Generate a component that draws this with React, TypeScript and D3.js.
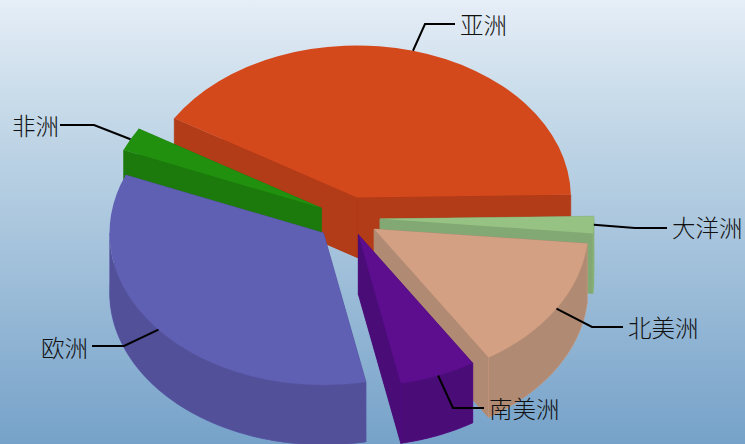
// App.tsx
import { useEffect, useRef } from 'react'
import * as d3 from 'd3'

const WIDTH = 745
const HEIGHT = 444

// values in drawing order round the pie, counter-clockwise from 3 o'clock
const categories = ['亚洲', '非洲', '欧洲', '南美洲', '北美洲', '大洋洲']
const shares = [41.0, 2.5, 34.4, 5.8, 14.5, 1.8]
const explosions = [30, 31, 33, 25, 29.5, 31]

const topColors = ['#d4491c', '#21900f', '#5f5fb3', '#5c0e8e', '#d3a084', '#96c283']
const wallColors = ['#b23b18', '#1c7a0d', '#525098', '#4a0d78', '#b08a72', '#82a874']

// painter's order, back to front
const PAINT_ORDER = [0, 5, 1, 4, 3, 2]

// label text anchor and leader elbow/end, same order as categories
const labelAt: [number, number][] = [[460, 34], [12, 135], [41, 357], [489, 418], [628, 337], [672, 237]]
const elbowAt: [number, number][] = [[425, 24], [94, 125], [124, 346], [453, 408], [592, 327], [635, 228]]
const leaderEnd: [number, number][] = [[455, 24], [60, 125], [92, 346], [484, 408], [623, 327], [667, 228]]

const CENTER = { x: 349, y: 218 }
const RX = 214
const TILT = 152 / 214
const DEPTH = 60
const START_DEG = 89 // 1 degree above 3 o'clock, in d3's clock angles

export default function App() {
  const svgRef = useRef<SVGSVGElement>(null)

  useEffect(() => {
    document.body.style.margin = '0'
    const svgEl = svgRef.current
    if (!svgEl) return

    const svg = d3.select(svgEl)
    svg.selectAll('*').remove()

    // ── Background ──────────────────────────────────────────────────────────
    const grad = svg.append('defs').append('linearGradient')
      .attr('id', 'bg').attr('x1', 0).attr('y1', 0).attr('x2', 0).attr('y2', 1)
    grad.append('stop').attr('offset', '0%').attr('stop-color', '#e6eef7')
    grad.append('stop').attr('offset', '22%').attr('stop-color', '#c9dcea')
    grad.append('stop').attr('offset', '100%').attr('stop-color', '#76a2c9')
    svg.append('rect').attr('width', WIDTH).attr('height', HEIGHT).attr('fill', 'url(#bg)')

    // ── Slices ──────────────────────────────────────────────────────────────
    const start = (START_DEG * Math.PI) / 180
    const pie = d3.pie<number>().sort(null).startAngle(start).endAngle(start - 2 * Math.PI)
    const slices = pie(shares)

    const apexes = slices.map((s, i) => {
      const [dx, dy] = d3.pointRadial((s.startAngle + s.endAngle) / 2, explosions[i])
      return [CENTER.x + dx, CENTER.y + dy * TILT] as [number, number]
    })
    const rim = (i: number, a: number): [number, number] => {
      const [dx, dy] = d3.pointRadial(a, RX)
      return [apexes[i][0] + dx, apexes[i][1] + dy * TILT]
    }

    const arc = d3.arc<d3.PieArcDatum<number>>().innerRadius(0).outerRadius(RX)
    const wall = d3.area<[number, number]>().x(d => d[0]).y1(d => d[1]).y0(d => d[1] + DEPTH)
    const plot = svg.append('g')

    PAINT_ORDER.forEach(i => {
      const s = slices[i]
      const [ax, ay] = apexes[i]
      const g = plot.append('g')
      const top = topColors[i]
      const side = wallColors[i]

      // underside of the slice
      g.append('path').attr('d', arc(s))
        .attr('transform', `translate(${ax},${ay + DEPTH}) scale(1,${TILT})`)
        .attr('fill', side)

      // the two cut faces
      ;[s.startAngle, s.endAngle].forEach(a => {
        g.append('path').attr('d', wall([[ax, ay], rim(i, a)]))
          .attr('fill', side).attr('stroke', side).attr('stroke-width', 0.5)
      })

      // curved outer wall, only the front half of the ellipse shows
      const from = Math.min(s.startAngle, -Math.PI / 2)
      const to = Math.max(s.endAngle, (-3 * Math.PI) / 2)
      if (from > to) {
        const pts = d3.range(0, 81).map(n => rim(i, from + ((to - from) * n) / 80))
        g.append('path').attr('d', wall(pts))
          .attr('fill', side).attr('stroke', top).attr('stroke-opacity', 0.5).attr('stroke-width', 0.8)
      }

      g.append('path').attr('d', arc(s))
        .attr('transform', `translate(${ax},${ay}) scale(1,${TILT})`)
        .attr('fill', top)
    })

    // ── Leaders + labels ────────────────────────────────────────────────────
    const line = d3.line()
    slices.forEach((s, i) => {
      const from = rim(i, (s.startAngle + s.endAngle) / 2)
      svg.append('path').attr('d', line([from, elbowAt[i], leaderEnd[i]]))
        .attr('fill', 'none').attr('stroke', '#000').attr('stroke-width', 2)
      svg.append('text')
        .attr('x', labelAt[i][0]).attr('y', labelAt[i][1])
        .attr('font-family', '"Noto Sans CJK SC", sans-serif')
        .attr('font-size', 23.5).attr('font-weight', 300).attr('fill', '#111')
        .text(categories[i])
    })
  }, [])

  return <svg ref={svgRef} width={WIDTH} height={HEIGHT} style={{ display: 'block' }} />
}
